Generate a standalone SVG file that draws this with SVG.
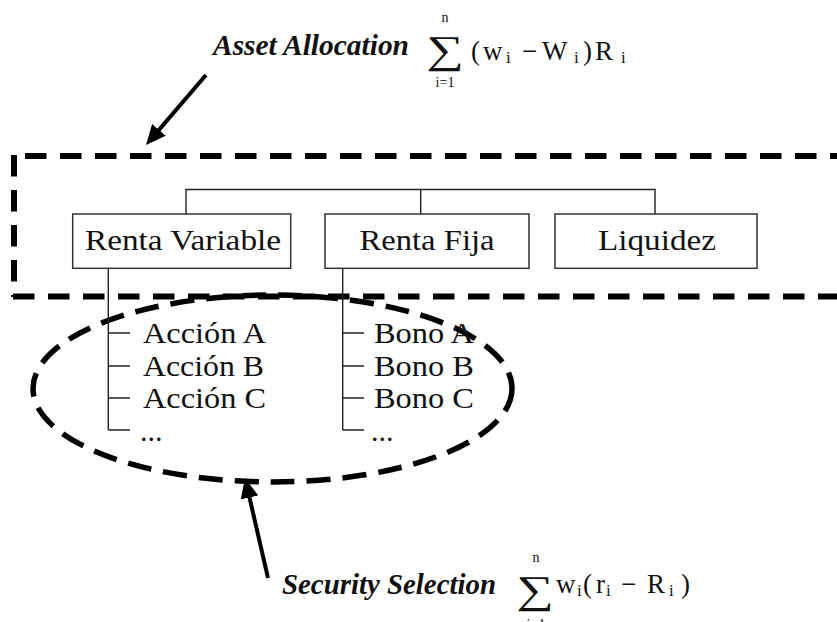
<svg xmlns="http://www.w3.org/2000/svg" width="837" height="622" viewBox="0 0 837 622">
<defs>
<style>
.box{fill:#fff;stroke:#333;stroke-width:1.5}
.ln{stroke:#222;stroke-width:1.4;fill:none}
.dash{stroke:#000;stroke-width:6;fill:none;stroke-dasharray:21.5 13.5}
.ell{stroke:#000;stroke-width:5.5;fill:none;stroke-dasharray:24 12}
.arr{stroke:#000;stroke-width:4;fill:none}
.t{font-family:"Liberation Serif","Times New Roman",serif;font-size:30px;fill:#111}
.bt{font-family:"Liberation Serif","Times New Roman",serif;font-size:29px;font-weight:bold;font-style:italic;fill:#111}
.m{font-family:"Liberation Serif","Times New Roman",serif;font-size:27px;fill:#111}
.s{font-family:"Liberation Serif","Times New Roman",serif;font-size:17px;fill:#111}
.lim{font-family:"Liberation Serif","Times New Roman",serif;font-size:14px;fill:#111;text-anchor:middle}
.sig{font-family:"Liberation Serif","DejaVu Serif",serif;font-size:39px;fill:#111;text-anchor:middle}
</style>
<marker id="ah" viewBox="0 0 20 18" refX="8" refY="9" markerWidth="20" markerHeight="18" markerUnits="userSpaceOnUse" orient="auto">
<path d="M0,0 L20,9 L0,18 z" fill="#000"/>
</marker>
</defs>

<g id="asset-allocation-region">
<line class="dash" x1="25" y1="156" x2="837" y2="156"/>
<line class="dash" x1="14" y1="155" x2="14" y2="297"/>
<line class="dash" x1="13" y1="296.5" x2="837" y2="296.5"/>
</g>

<g id="security-selection-region">
<ellipse class="ell" cx="272.5" cy="388.5" rx="239.5" ry="93.5"/>
</g>

<g id="connectors">
<path class="ln" d="M186,214 V189.5 H655 V214 M420.7,189.5 V214"/>
<path class="ln" d="M108.3,268 V430 M108.3,333 H130 M108.3,366 H130 M108.3,398 H130 M108.3,430 H130"/>
<path class="ln" d="M342.7,268 V430 M342.7,333 H364 M342.7,366 H364 M342.7,398 H364 M342.7,430 H364"/>
<line class="arr" x1="206" y1="75" x2="153.8" y2="135.9" marker-end="url(#ah)"/>
<line class="arr" x1="268" y1="578" x2="247.7" y2="489.7" marker-end="url(#ah)"/>
</g>

<g id="renta-variable">
<rect class="box" x="72.7" y="214" width="218" height="54.3"/>
<text class="t" x="183" y="250" text-anchor="middle" textLength="196" lengthAdjust="spacingAndGlyphs">Renta Variable</text>
</g>
<g id="renta-fija">
<rect class="box" x="325" y="214" width="204" height="54.3"/>
<text class="t" x="427" y="250" text-anchor="middle" textLength="135" lengthAdjust="spacingAndGlyphs">Renta Fija</text>
</g>
<g id="liquidez">
<rect class="box" x="555" y="214" width="202" height="54.3"/>
<text class="t" x="657" y="250" text-anchor="middle" textLength="118" lengthAdjust="spacingAndGlyphs">Liquidez</text>
</g>

<g id="acciones">
<text class="t" x="143" y="343" textLength="123" lengthAdjust="spacingAndGlyphs">Acción A</text>
<text class="t" x="143" y="376" textLength="121" lengthAdjust="spacingAndGlyphs">Acción B</text>
<text class="t" x="143" y="408" textLength="123" lengthAdjust="spacingAndGlyphs">Acción C</text>
<text class="t" x="140" y="441">...</text>
</g>
<g id="bonos">
<text class="t" x="374" y="343" textLength="100" lengthAdjust="spacingAndGlyphs">Bono A</text>
<text class="t" x="374" y="376" textLength="100" lengthAdjust="spacingAndGlyphs">Bono B</text>
<text class="t" x="374" y="408" textLength="100" lengthAdjust="spacingAndGlyphs">Bono C</text>
<text class="t" x="371" y="441">...</text>
</g>

<g id="asset-allocation-label">
<text class="bt" x="213" y="55" textLength="196" lengthAdjust="spacingAndGlyphs">Asset Allocation</text>
<text class="sig" transform="translate(445,63) scale(1.35,1)">∑</text>
<text class="lim" x="445" y="22">n</text>
<text class="lim" x="445" y="87">i=1</text>
<text class="m" y="60"><tspan x="471">(</tspan><tspan x="483">w</tspan><tspan class="s" x="506" y="63">i</tspan><tspan x="522" y="60">−</tspan><tspan x="542">W</tspan><tspan class="s" x="574" y="63">i</tspan><tspan x="583" y="60">)</tspan><tspan x="595">R</tspan><tspan class="s" x="621" y="63">i</tspan></text>
</g>

<g id="security-selection-label">
<text class="bt" x="282" y="594" textLength="214" lengthAdjust="spacingAndGlyphs">Security Selection</text>
<text class="sig" transform="translate(535,603) scale(1.35,1)">∑</text>
<text class="lim" x="536" y="562">n</text>
<text class="lim" x="536" y="629">i=1</text>
<text class="m" y="593"><tspan x="556">w</tspan><tspan class="s" x="577" y="596">i</tspan><tspan x="583" y="593">(</tspan><tspan x="596">r</tspan><tspan class="s" x="606" y="596">i</tspan><tspan x="621" y="593">−</tspan><tspan x="647">R</tspan><tspan class="s" x="669" y="596">i</tspan><tspan x="681" y="593">)</tspan></text>
</g>
</svg>
